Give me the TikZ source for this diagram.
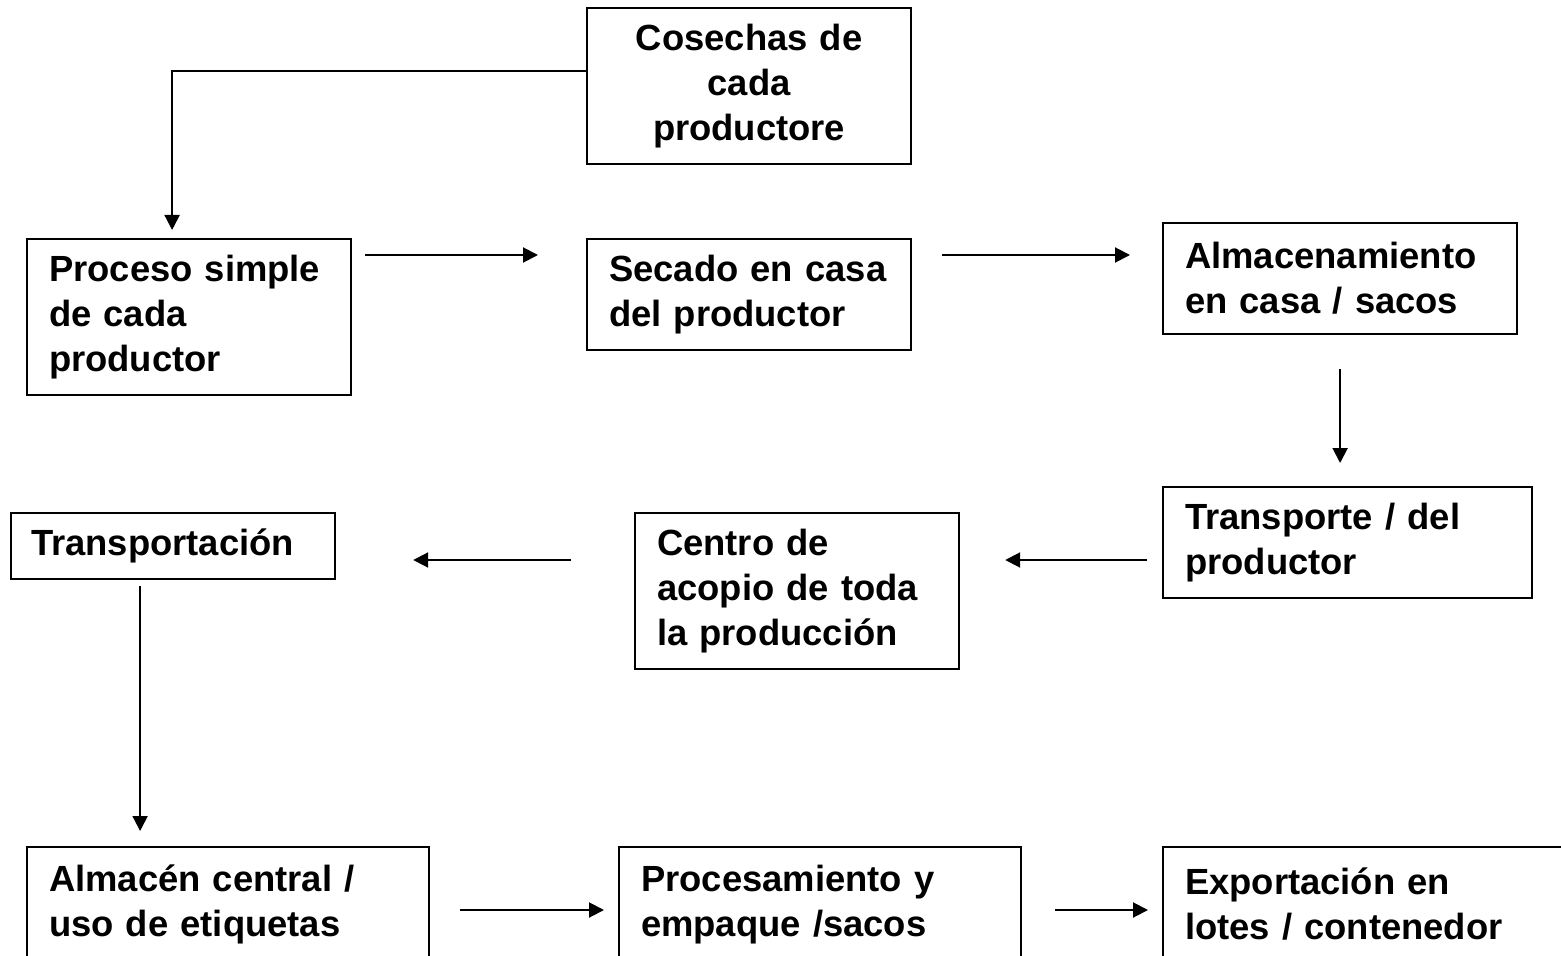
\documentclass[tikz,border=0pt]{standalone}
\usepackage{fontspec}
\setmainfont{Liberation Sans}
\usetikzlibrary{arrows.meta}
\begin{document}
\begin{tikzpicture}[x=0.5pt,y=-0.5pt]
		\tikzstyle{mybox}=[draw,line width=1.1pt,anchor=north west,inner xsep=10pt,inner ysep=0pt,align=left,font=\fontsize{18.2}{22.5}\selectfont\bfseries]
		\tikzstyle{myarrow}=[line width=1pt,-{Triangle[length=7.5pt,width=7.5pt]}]

		\useasboundingbox (0,0) rectangle (1561,956);
		\clip (0,0) rectangle (1561,956);

		% first row
		\node[mybox,text width=142pt,minimum height=78pt,align=center] (cos) at (586,7) {Cosechas de\\cada\\productore};
		\node[mybox,text width=142pt,minimum height=78pt] (proc) at (26,238) {\hspace*{1pt}Proceso simple\\\hspace*{1pt}de cada\\\hspace*{1pt}productor};
		\node[mybox,text width=142pt,minimum height=55.5pt] (sec) at (586,238) {\hspace*{1pt}Secado en casa\\\hspace*{1pt}del productor};
		\node[mybox,text width=157pt,minimum height=55.5pt] (alm) at (1162,222) {\hspace*{1pt}Almacenamiento\\\hspace*{1pt}en casa / sacos};

		% second row
		\node[mybox,text width=164.5pt,minimum height=55.5pt] (trp) at (1162,486) {\hspace*{1pt}Transporte / del\\\hspace*{1pt}productor};
		\node[mybox,text width=142pt,minimum height=78pt] (cen) at (634,512) {\hspace*{1pt}Centro de\\\hspace*{1pt}acopio de toda\\\hspace*{1pt}la producción};
		\node[mybox,text width=142pt,minimum height=33pt] (tra) at (10,512) {Transportación};

		% last row (cut by the page)
		\node[mybox,text width=181pt,minimum height=57pt] (alc) at (26,846) {\hspace*{1pt}Almacén central /\\\hspace*{1pt}uso de etiquetas};
		\node[mybox,text width=181pt,minimum height=57pt] (pro) at (618,846) {\hspace*{1pt}Procesamiento y\\\hspace*{1pt}empaque /sacos};
		\node[mybox,text width=181pt,minimum height=57pt] (exp) at (1162,846) {\hspace*{1pt}Exportación en\\\hspace*{1pt}lotes / contenedor};

		\draw[myarrow] (cos.west |- 0,71) -| ([xshift=-8.5pt,yshift=4pt]proc.north);
		\draw[myarrow,shorten <=6.5pt,shorten >=24pt] (proc.east |- 0,255) -- (sec.west |- 0,255);
		\draw[myarrow,shorten <=15pt,shorten >=16pt] (sec.east |- 0,255) -- (alm.west |- 0,255);
		\draw[myarrow,shorten <=17pt,shorten >=11.5pt] (alm.south) -- (alm.south |- trp.north);
		\draw[myarrow,shorten <=7.5pt,shorten >=22.5pt] (trp.west |- 0,560) -- (cen.east |- 0,560);
		\draw[myarrow,shorten <=31.5pt,shorten >=38.5pt] (cen.west |- 0,560) -- (tra.east |- 0,560);
		\draw[myarrow,shorten <=3pt,shorten >=7.5pt] ([xshift=-16.5pt]tra.south) -- ([xshift=-16.5pt]tra.south |- alc.north);
		\draw[myarrow,shorten <=15pt,shorten >=7pt] (alc.east |- 0,910) -- (pro.west |- 0,910);
		\draw[myarrow,shorten <=16.5pt,shorten >=7pt] (pro.east |- 0,910) -- (exp.west |- 0,910);
	\end{tikzpicture}
\end{document}
